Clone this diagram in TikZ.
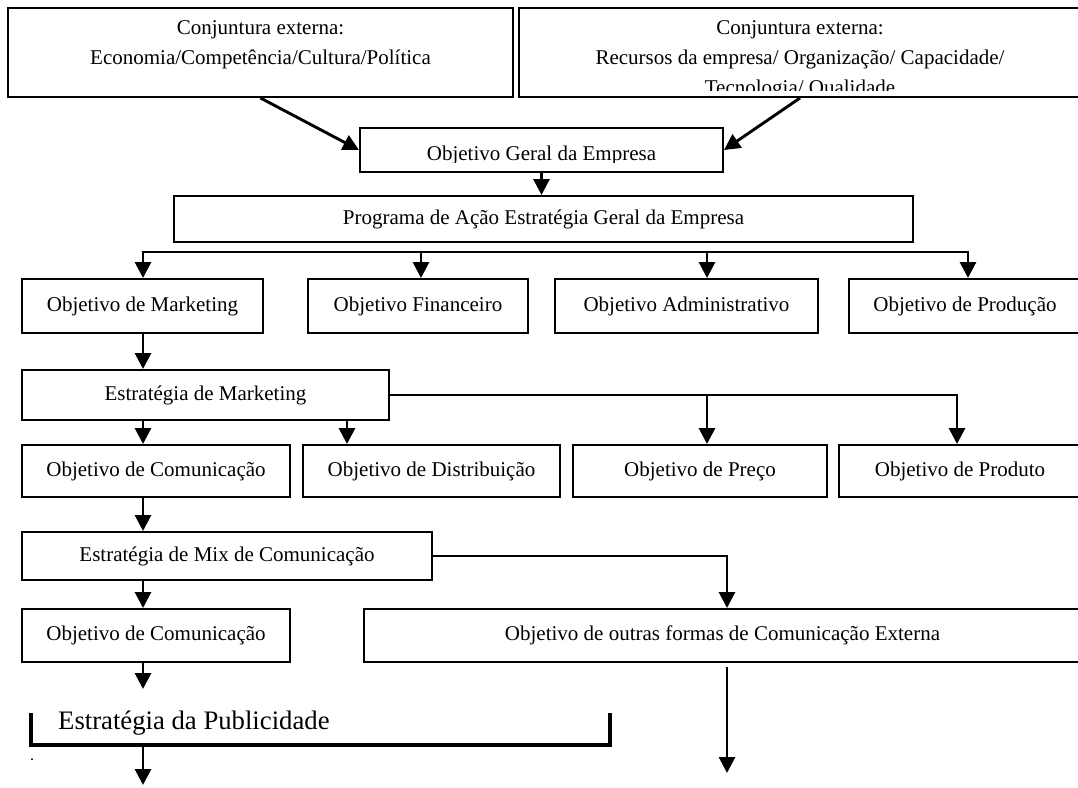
\documentclass[tikz,border=0pt]{standalone}
\usepackage{fontspec}
\setmainfont{Liberation Serif}
\usetikzlibrary{arrows.meta}
\begin{document}
\begin{tikzpicture}[x=1pt,y=-1pt,
  boxst/.style={draw, line width=2pt, inner sep=0pt,
    font=\fontsize{21}{30}\selectfont, align=center},
  txt/.style={inner sep=0pt, font=\fontsize{21}{30}\selectfont, align=center},
  wire/.style={line width=2.9pt},
  arr/.style={wire, -{Triangle[length=16pt,width=16pt]}}]

\useasboundingbox (0,0) rectangle (1078,787);

% horizontal positions of the vertical connectors
\coordinate (xA) at (143,0);
\coordinate (xB) at (421,0);
\coordinate (xC) at (707,0);
\coordinate (xD) at (968,0);
\coordinate (xE) at (347,0);
\coordinate (xF) at (957,0);
\coordinate (xM) at (727,0);

% top: external conditions
\node[boxst, minimum width=505pt, minimum height=89pt] (b1) at (260.5,52.5) {};
\node[txt, anchor=north] (t1) at (260.5,20.5)
  {Conjuntura externa:\\Economia/Competência/Cultura/Política};

\node[boxst, minimum width=562pt, minimum height=89pt] (b2) at (800,52.5) {};
\begin{scope}
  \clip (519,8) rectangle (1081,90.5);
  \node[txt, anchor=north] (t2) at (800,20.5)
    {Conjuntura externa:\\Recursos da empresa/ Organização/ Capacidade/\\Tecnologia/ Qualidade};
\end{scope}

% general objective
\node[boxst, minimum width=363pt, minimum height=44pt] (g) at (541.5,150) {};
\begin{scope}
  \clip (360,128) rectangle (723,162);
  \node[txt, anchor=base] (tg) at (541.5,160) {Objetivo Geral da Empresa};
\end{scope}

\draw[arr] (b1.south) -- (g.west);
\draw[arr] (b2.south) -- (g.east);

\node[boxst, minimum width=739pt, minimum height=46pt] (prog) at (543.5,219)
  {Programa de Ação Estratégia Geral da Empresa};
\draw[arr] (g.south) -- (g.south |- prog.north);

% first row of objectives
\node[boxst, minimum width=241pt, minimum height=54pt] (mk)   at (142.5,306) {Objetivo de Marketing};
\node[boxst, minimum width=220pt, minimum height=54pt] (fin)  at (418,306)   {Objetivo Financeiro};
\node[boxst, minimum width=263pt, minimum height=54pt] (adm)  at (686.5,306) {Objetivo Administrativo};
\node[boxst, minimum width=232pt, minimum height=54pt] (prod) at (965,306)   {Objetivo de Produção};

\coordinate (busB) at (421,252);
\draw[arr] (busB) -| (mk.north -| xA);
\draw[arr] (busB) -| (prod.north -| xD);
\draw[arr] (busB) -- (fin.north -| xB);
\draw[arr] (busB -| xC) -- (adm.north -| xC);

% marketing strategy
\node[boxst, minimum width=367pt, minimum height=50pt] (estm) at (205.5,395) {Estratégia de Marketing};
\draw[arr] (mk.south -| xA) -- (estm.north -| xA);

\node[boxst, minimum width=268pt, minimum height=52pt] (com1) at (156,471)   {Objetivo de Comunicação};
\node[boxst, minimum width=257pt, minimum height=52pt] (dis)  at (431.5,471) {Objetivo de Distribuição};
\node[boxst, minimum width=254pt, minimum height=52pt] (pre)  at (700,471)   {Objetivo de Preço};
\node[boxst, minimum width=242pt, minimum height=52pt] (pdt)  at (960,471)   {Objetivo de Produto};

\draw[arr] (estm.east) -| (pdt.north -| xF);
\draw[arr] (estm.east -| xC) -- (pre.north -| xC);
\draw[arr] (estm.south -| xA) -- (com1.north -| xA);
\draw[arr] (estm.south -| xE) -- (dis.north -| xE);

% communication mix
\node[boxst, minimum width=410pt, minimum height=48pt] (mix) at (227,556) {Estratégia de Mix de Comunicação};
\draw[arr] (com1.south -| xA) -- (mix.north -| xA);

\node[boxst, minimum width=268pt, minimum height=53pt] (com2) at (156,635.5) {Objetivo de Comunicação};
\node[boxst, minimum width=717pt, minimum height=53pt] (out)  at (722.5,635.5)
  {Objetivo de outras formas de Comunicação Externa};

\draw[arr] (mix.south -| xA) -- (com2.north -| xA);
\draw[arr] (mix.east) -| (out.north -| xM);

% advertising strategy
\coordinate (pin) at (143,689);
\draw[arr] (com2.south -| xA) -- (pin);

\node[inner sep=0pt, font=\fontsize{26.7}{30}\selectfont, anchor=base west] (pub) at (58,729)
  {Estratégia da Publicidade};
\coordinate (pbl) at (31,713);
\coordinate (pbr) at (610,713);
\coordinate (pbb) at (143,745);
\coordinate (pend) at (143,785);
\draw[line width=3.3pt, line join=miter] (pbl) -- (pbl |- pbb) -- (pbr |- pbb) -- (pbr);
\draw[arr] (pbb) -- (pend);
\node[inner sep=0pt, font=\fontsize{16}{18}\selectfont, anchor=base] (dot) at (32,760) {.};

\coordinate (oa) at (727,667);
\coordinate (ob) at (727,773);
\draw[arr] (oa) -- (ob);

\end{tikzpicture}
\end{document}
